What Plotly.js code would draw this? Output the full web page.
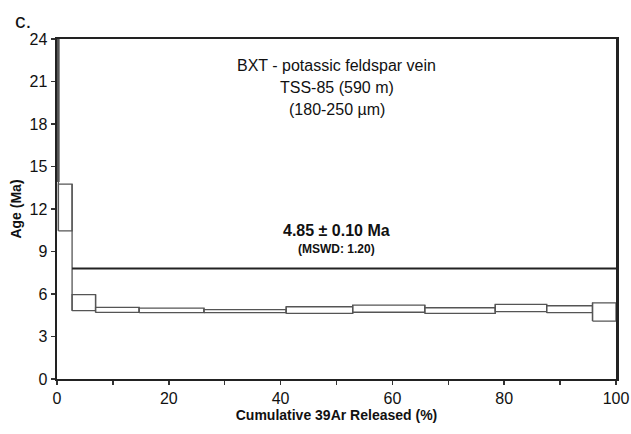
<!DOCTYPE html>
<html><head><meta charset="utf-8">
<script src="https://cdn.plot.ly/plotly-3.0.1.min.js"></script>
<style>html,body{margin:0;padding:0;background:#fff}#chart{width:631px;height:434px}</style>
</head><body><div id="chart"></div>
<script>
// Step heating data (cumulative % 39Ar, age range in Ma)
const cumStart = [0.0, 0.25, 2.7, 6.9, 14.7, 26.3, 41.0, 52.9, 65.8, 78.4, 87.6, 95.8];
const cumEnd   = [0.25, 2.7, 6.9, 14.7, 26.3, 41.0, 52.9, 65.8, 78.4, 87.6, 95.8, 100.0];
const ageLow   = [14.0, 10.46, 4.82, 4.70, 4.68, 4.68, 4.63, 4.71, 4.63, 4.75, 4.68, 4.09];
const ageHigh  = [40.0, 13.76, 5.95, 5.05, 5.00, 4.90, 5.10, 5.22, 5.03, 5.27, 5.17, 5.38];
const plateauX = [2.7, 100];
const plateauY = [7.8, 7.8];
const yTicks = [0, 3, 6, 9, 12, 15, 18, 21, 24];
const xTicks = [0, 20, 40, 60, 80, 100];

const traces = [];
for (let i = 0; i < cumStart.length; i++) {
  traces.push({
    x: [cumStart[i], cumEnd[i], cumEnd[i], cumStart[i], cumStart[i]],
    y: [ageLow[i], ageLow[i], ageHigh[i], ageHigh[i], ageLow[i]],
    type: 'scatter', mode: 'lines', fill: 'toself', fillcolor: '#ffffff',
    line: {color: '#555555', width: i === 0 ? 2.5 : 1.3},
    hoverinfo: 'skip', showlegend: false
  });
}
// vertical connectors between adjacent steps
for (let i = 1; i < cumStart.length; i++) {
  const lo = Math.min(ageLow[i - 1], ageLow[i]);
  const hi = Math.max(ageHigh[i - 1], ageHigh[i]);
  traces.push({
    x: [cumStart[i], cumStart[i]], y: [lo, hi], type: 'scatter', mode: 'lines',
    line: {color: '#555555', width: 1.3}, hoverinfo: 'skip', showlegend: false
  });
}
traces.push({
  x: plateauX, y: plateauY, type: 'scatter', mode: 'lines',
  line: {color: '#222222', width: 2.2}, showlegend: false
});

const font = {family: 'Liberation Sans, Arial, sans-serif', color: '#111'};
const layout = {
  width: 631, height: 434,
  margin: {l: 57, r: 15, t: 39, b: 55},
  paper_bgcolor: '#fff', plot_bgcolor: '#fff',
  font: Object.assign({size: 14}, font),
  showlegend: false,
  xaxis: {
    range: [0, 100], tickvals: xTicks, ticktext: xTicks.map(String),
    ticks: 'outside', ticklen: 4, tickwidth: 1.5, tickcolor: '#333',
    minor: {dtick: 10, ticks: 'outside', ticklen: 4, tickwidth: 1.5, tickcolor: '#333'},
    showline: true, linecolor: '#222', linewidth: 2, mirror: true,
    showgrid: false, zeroline: false,
    tickfont: Object.assign({size: 16}, font),
    title: {text: '<b>Cumulative 39Ar Released (%)</b>', font: Object.assign({size: 14}, font), standoff: 1}
  },
  yaxis: {
    range: [0, 24], tickvals: yTicks, ticktext: yTicks.map(String),
    ticks: 'outside', ticklen: 4, tickwidth: 1.5, tickcolor: '#333',
    showline: true, linecolor: '#222', linewidth: 2.5, mirror: true,
    showgrid: false, zeroline: false,
    tickfont: Object.assign({size: 16}, font),
    title: {text: '<b>Age (Ma)</b>', font: Object.assign({size: 14}, font), standoff: 5}
  },
  annotations: [
    {xref: 'paper', yref: 'paper', x: -0.078, y: 1.095, xanchor: 'left', yanchor: 'top',
     text: 'c.', showarrow: false, font: Object.assign({size: 21}, font)},
    {xref: 'x', yref: 'y', x: 50, y: 22.1, text: 'BXT - potassic feldspar vein', showarrow: false,
     font: Object.assign({size: 16}, font)},
    {xref: 'x', yref: 'y', x: 50, y: 20.55, text: 'TSS-85 (590 m)', showarrow: false,
     font: Object.assign({size: 16}, font)},
    {xref: 'x', yref: 'y', x: 50, y: 19.0, text: '(180-250 µm)', showarrow: false,
     font: Object.assign({size: 16}, font)},
    {xref: 'x', yref: 'y', x: 50, y: 10.45, text: '<b>4.85 ± 0.10 Ma</b>', showarrow: false,
     font: Object.assign({size: 16}, font)},
    {xref: 'x', yref: 'y', x: 50, y: 9.2, text: '<b>(MSWD: 1.20)</b>', showarrow: false,
     font: Object.assign({size: 12}, font)}
  ]
};
Plotly.newPlot('chart', traces, layout, {staticPlot: true, displayModeBar: false});
</script></body></html>
